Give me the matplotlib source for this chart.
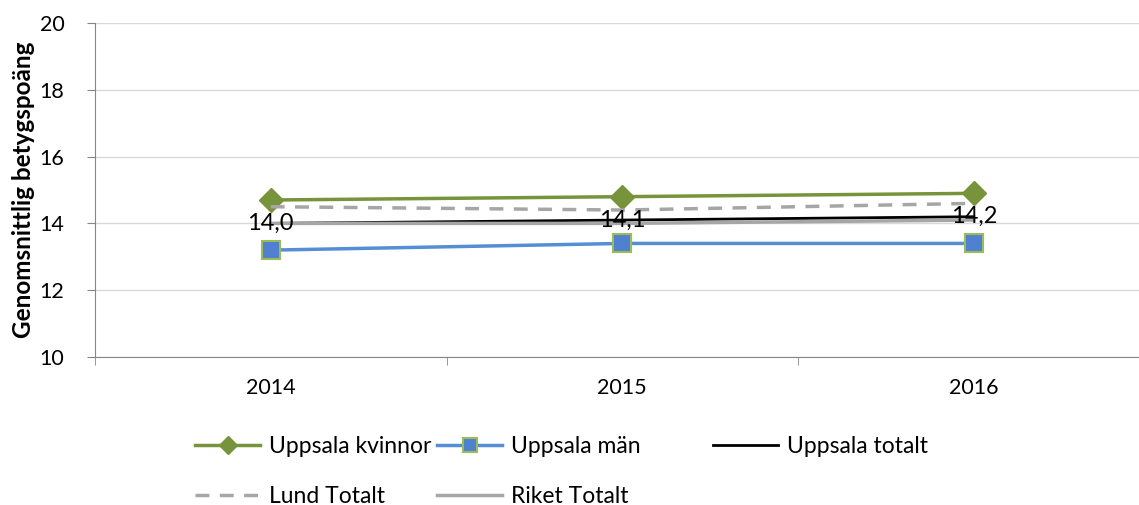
import matplotlib
matplotlib.use("Agg")
import matplotlib.pyplot as plt
import numpy as np

years = ["2014", "2015", "2016"]
kvinnor = [14.7, 14.8, 14.9]
man = [13.2, 13.4, 13.4]
totalt = [14.0, 14.1, 14.2]
lund = [14.5, 14.4, 14.6]
riket = [14.0, 14.0, 14.1]
totalt_labels = ["14,0", "14,1", "14,2"]

plt.rcParams['font.family'] = ['Lato', 'DejaVu Sans']

fig = plt.figure(figsize=(11.39, 5.05), dpi=100)
ax = fig.add_axes([95/1139, 1-357/505, (1149.5-95)/1139, (357-23)/505])

x = np.arange(len(years))
l1, = ax.plot(x, kvinnor, color="#77933C", lw=2.5, marker="D", ms=12,
              mfc="#77933C", mec="#77933C", label="Uppsala kvinnor")
l2, = ax.plot(x, man, color="#558ED5", lw=2.5, marker="s", ms=13,
              mfc="#4F81D0", mec="#9BBB59", mew=1.5, label="Uppsala m\u00e4n")
l3, = ax.plot(x, totalt, color="black", lw=2.0, label="Uppsala totalt")
l4, = ax.plot(x, lund, color="#A6A6A6", lw=2.5, ls=(0, (4, 3)), label="Lund Totalt")
l5, = ax.plot(x, riket, color="#A6A6A6", lw=2.5, label="Riket Totalt")

for xi, yi, t in zip(x, totalt, totalt_labels):
    ax.text(xi, yi, t, ha="center", va="center", fontsize=17, color="black", zorder=10)

ax.set_xlim(-0.5, 2.5)
ax.set_ylim(10, 20)
ax.set_yticks([10, 12, 14, 16, 18, 20])
ax.set_xticks(x)
ax.set_xticklabels(years, fontsize=15.5)
ax.set_xticks([-0.5, 0.5, 1.5, 2.5], minor=True)
ax.tick_params(axis="x", which="major", length=0, pad=15)
ax.tick_params(axis="x", which="minor", length=6, color="#868686", direction="out")
ax.tick_params(axis="y", length=6, color="#868686", labelsize=15.5, pad=16)
ax.grid(axis="y", color="#D9D9D9", lw=1)
ax.set_axisbelow(True)
for s in ["top", "right"]:
    ax.spines[s].set_visible(False)
ax.spines["left"].set_color("#868686")
ax.spines["bottom"].set_color("#868686")
ax.set_ylabel("Genomsnittlig betygspo\u00e4ng", fontsize=17.5, fontweight="bold", labelpad=3)

legend_kw = dict(loc="upper left", frameon=False, fontsize=16.5, handlelength=2.85,
                 handletextpad=0.4, labelspacing=1.25, borderpad=0, borderaxespad=0,
                 markerscale=0.8)
top = 1 - 436/505
for xpos, hs in [(195, [l1, l4]), (437, [l2, l5]), (713, [l3])]:
    fig.legend(handles=hs, labels=[h.get_label() for h in hs],
               bbox_to_anchor=(xpos/1139, top), **legend_kw)

fig.savefig("out.png", dpi=100)
